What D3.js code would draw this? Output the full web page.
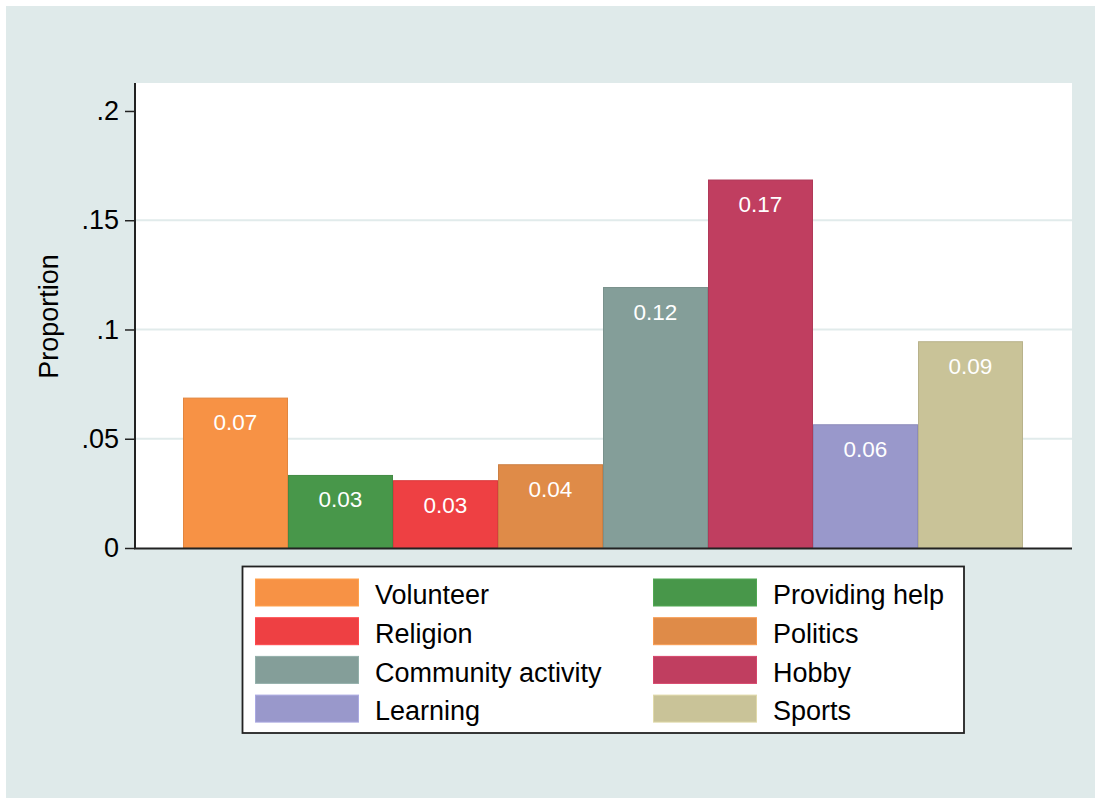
<!DOCTYPE html>
<meta charset="utf-8">
<script src="https://cdn.jsdelivr.net/npm/d3@7"></script>
<style>
body { margin: 0; background: #fff; }
text { font-family: "Liberation Sans", Arial, sans-serif; }
</style>
<body>
<script>

var categories = ["Volunteer", "Providing help", "Religion", "Politics",
                  "Community activity", "Hobby", "Learning", "Sports"];
var values = [0.0686, 0.0332, 0.0308, 0.0381, 0.1192, 0.1684, 0.0564, 0.0944];
var labels = ["0.07", "0.03", "0.03", "0.04", "0.12", "0.17", "0.06", "0.09"];
var colors = ["#f79245", "#48974a", "#ee4043", "#df8b48",
              "#849e99", "#c03e60", "#9998cb", "#c9c398"];
var yTicks = [0, 0.05, 0.1, 0.15, 0.2];
var yTickLabels = ["0", ".05", ".1", ".15", ".2"];

var width = 1095, height = 798;
var plot = {left: 135, top: 83, right: 1072, bottom: 548};

var svg = d3.select("body").append("svg")
    .attr("width", width)
    .attr("height", height);

// outer region
svg.append("rect")
    .attr("x", 6).attr("y", 6)
    .attr("width", width - 6).attr("height", height - 6)
    .attr("fill", "#dfeaea");

// plot region
svg.append("rect")
    .attr("x", plot.left).attr("y", plot.top)
    .attr("width", plot.right - plot.left)
    .attr("height", plot.bottom - plot.top)
    .attr("fill", "#fff");

var x = d3.scaleBand()
    .domain(categories)
    .range([plot.left + 48, plot.right - 49])
    .padding(0);

var y = d3.scaleLinear()
    .domain([0, 0.2128])
    .range([plot.bottom, plot.top]);

// grid lines
svg.append("g")
    .selectAll("line")
    .data(yTicks.filter(function(d) { return d > 0 && d < 0.2; }))
    .enter().append("line")
    .attr("x1", plot.left).attr("x2", plot.right)
    .attr("y1", function(d) { return y(d); })
    .attr("y2", function(d) { return y(d); })
    .attr("stroke", "#e1ebeb")
    .attr("stroke-width", 2);

// bars
var bars = svg.append("g")
    .selectAll("rect")
    .data(values)
    .enter().append("rect")
    .attr("x", function(d, i) { return x(categories[i]) + 0.5; })
    .attr("y", function(d) { return y(d); })
    .attr("width", x.bandwidth() - 1)
    .attr("height", function(d) { return y(0) - y(d); })
    .attr("fill", function(d, i) { return colors[i]; })
    .attr("stroke", function(d, i) { return d3.color(colors[i]).darker(0.25); })
    .attr("stroke-width", 1);

// bar labels
svg.append("g")
    .selectAll("text")
    .data(values)
    .enter().append("text")
    .attr("x", function(d, i) { return x(categories[i]) + x.bandwidth() / 2; })
    .attr("y", function(d) { return y(d) + 32; })
    .attr("text-anchor", "middle")
    .attr("fill", "#fff")
    .style("font-size", "22.5px")
    .text(function(d, i) { return labels[i]; });

// y axis
var yAxis = d3.axisLeft(y)
    .tickValues(yTicks)
    .tickSize(10)
    .tickPadding(6)
    .tickFormat(function(d, i) { return yTickLabels[i]; });

var ya = svg.append("g")
    .attr("transform", "translate(" + plot.left + ",0)")
    .call(yAxis);
ya.select(".domain")
    .attr("d", "M0," + plot.top + "V" + (plot.bottom + 1))
    .attr("stroke", "#222")
    .attr("stroke-width", 2);
ya.selectAll(".tick line").attr("stroke", "#222").attr("stroke-width", 1.5);
ya.selectAll(".tick text")
    .attr("fill", "#000")
    .style("font-size", "27px")
    .style("font-family", "'Liberation Sans', Arial, sans-serif");

// x axis line
svg.append("line")
    .attr("x1", plot.left - 1).attr("x2", plot.right)
    .attr("y1", plot.bottom + 0.5).attr("y2", plot.bottom + 0.5)
    .attr("stroke", "#222")
    .attr("stroke-width", 2);

// y title
svg.append("text")
    .attr("transform", "translate(58," + ((plot.top + plot.bottom) / 2 + 1) + ") rotate(-90)")
    .attr("text-anchor", "middle")
    .style("font-size", "27px")
    .attr("fill", "#000")
    .text("Proportion");

// legend
var legend = svg.append("g");
legend.append("rect")
    .attr("x", 242.5).attr("y", 566.5)
    .attr("width", 721.5).attr("height", 166.5)
    .attr("fill", "#fff")
    .attr("stroke", "#222")
    .attr("stroke-width", 1.8);

var item = legend.selectAll("g.item")
    .data(categories)
    .enter().append("g")
    .attr("class", "item")
    .attr("transform", function(d, i) {
        var col = i % 2, row = Math.floor(i / 2);
        return "translate(" + (255 + col * 398) + "," + (578.5 + row * 38.7) + ")";
    });

item.append("rect")
    .attr("x", 0.5).attr("y", 0.5)
    .attr("width", 103).attr("height", 27)
    .attr("fill", function(d, i) { return colors[i]; })
    .attr("stroke", function(d, i) { return d3.color(colors[i]).brighter(0.3); })
    .attr("stroke-width", 1);

item.append("text")
    .attr("x", 120)
    .attr("y", 16)
    .attr("dy", "0.36em")
    .style("font-size", "27px")
    .attr("fill", "#000")
    .text(function(d) { return d; });

</script>
</body>
